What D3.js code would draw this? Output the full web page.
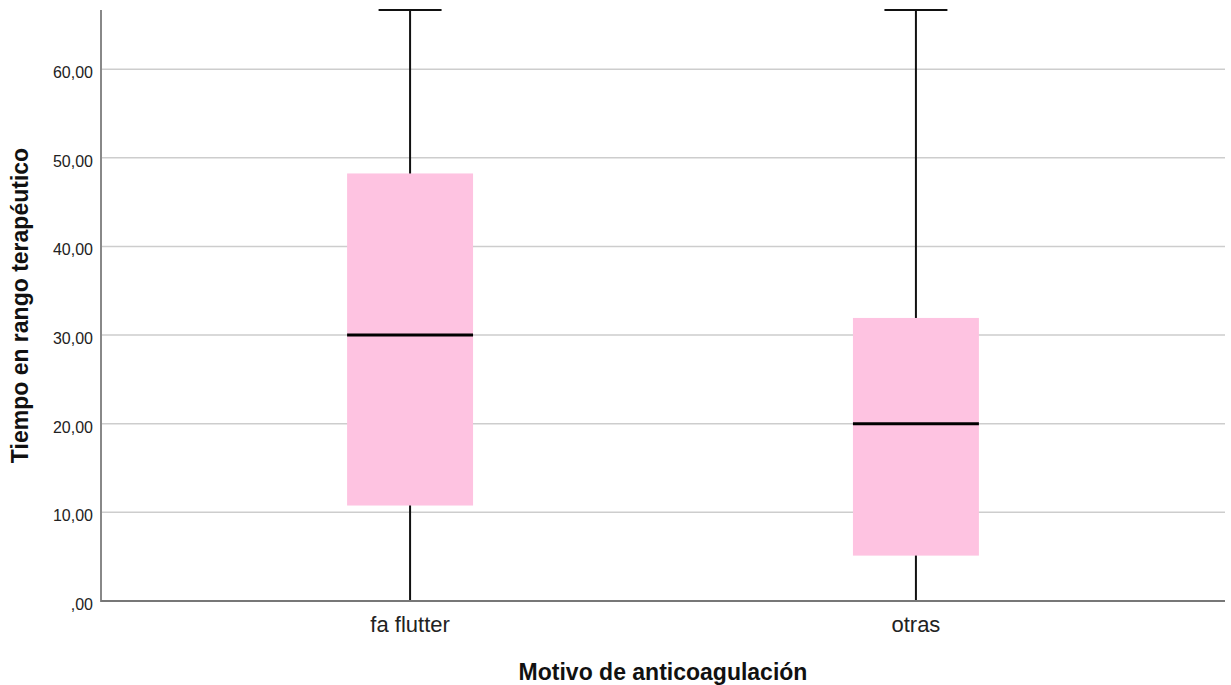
<!DOCTYPE html>
<html>
<head>
<meta charset="utf-8">
<script src="https://cdn.jsdelivr.net/npm/d3@7"></script>
<style>
  html, body { margin: 0; padding: 0; background: #fff; }
  svg { display: block; }
  text { font-family: Arial, "Liberation Sans", sans-serif; }
</style>
</head>
<body>
<svg id="chart" width="1231" height="685"></svg>
<script>
// ---- data ----
const categories = ["fa flutter", "otras"];
const whiskerLow  = [0, 0];
const q1Values    = [10.77, 5.12];
const medians     = [30.0, 20.0];
const q3Values    = [48.23, 31.93];
const whiskerHigh = [66.67, 66.67];
const yTicks      = [0, 10, 20, 30, 40, 50, 60];
const yTitle = "Tiempo en rango terapéutico";
const xTitle = "Motivo de anticoagulación";

(function () {
// ---- layout ----
const svg = d3.select("#chart");
const mLeft = 101, mRight = 1225, mTop = 10, mBottom = 601;

const x = d3.scalePoint().domain(categories).range([mLeft, mRight]).padding(0.611);
const y = d3.scaleLinear().domain([0, 66.67]).range([mBottom, mTop]);

const fmt = v => {
  const s = v.toFixed(2).replace(".", ",");
  return s.startsWith("0,") ? s.slice(1) : s;
};

// gridlines
svg.append("g")
  .selectAll("line")
  .data(yTicks.filter(d => d > 0))
  .join("line")
  .attr("x1", mLeft).attr("x2", mRight)
  .attr("y1", d => y(d)).attr("y2", d => y(d))
  .attr("stroke", "#cdcdcd").attr("stroke-width", 1.5);

// y tick labels
svg.append("g")
  .selectAll("text")
  .data(yTicks)
  .join("text")
  .attr("x", mLeft - 8)
  .attr("y", d => y(d) + 9)
  .attr("text-anchor", "end")
  .attr("font-size", 16)
  .attr("fill", "#222")
  .text(fmt);

const step = x.step();
const boxW = step * 0.249;
const capW = boxW / 2;

const data = categories.map((c, i) => ({
  c, lo: whiskerLow[i], q1: q1Values[i], med: medians[i], q3: q3Values[i], hi: whiskerHigh[i]
}));

const g = svg.append("g").selectAll("g").data(data).join("g");

// whiskers
g.append("line")
  .attr("x1", d => x(d.c)).attr("x2", d => x(d.c))
  .attr("y1", d => y(d.lo)).attr("y2", d => y(d.hi))
  .attr("stroke", "#111").attr("stroke-width", 2);
g.append("line")
  .attr("x1", d => x(d.c) - capW / 2).attr("x2", d => x(d.c) + capW / 2)
  .attr("y1", d => y(d.hi)).attr("y2", d => y(d.hi))
  .attr("stroke", "#111").attr("stroke-width", 2.2);

// boxes
g.append("rect")
  .attr("x", d => x(d.c) - boxW / 2)
  .attr("width", boxW)
  .attr("y", d => y(d.q3))
  .attr("height", d => y(d.q1) - y(d.q3))
  .attr("fill", "#fec3e1");

// medians
g.append("line")
  .attr("x1", d => x(d.c) - boxW / 2).attr("x2", d => x(d.c) + boxW / 2)
  .attr("y1", d => y(d.med)).attr("y2", d => y(d.med))
  .attr("stroke", "#000").attr("stroke-width", 3);

// axes lines
svg.append("line")
  .attr("x1", mLeft).attr("x2", mLeft).attr("y1", mTop).attr("y2", mBottom + 1)
  .attr("stroke", "#888").attr("stroke-width", 2);
svg.append("line")
  .attr("x1", mLeft).attr("x2", mRight).attr("y1", mBottom).attr("y2", mBottom)
  .attr("stroke", "#777").attr("stroke-width", 2);

// low caps (on axis)
g.append("line")
  .attr("x1", d => x(d.c) - capW / 2).attr("x2", d => x(d.c) + capW / 2)
  .attr("y1", d => y(d.lo)).attr("y2", d => y(d.lo))
  .attr("stroke", "#444").attr("stroke-width", 2);

// category labels
svg.append("g")
  .selectAll("text")
  .data(categories)
  .join("text")
  .attr("x", d => x(d))
  .attr("y", 632)
  .attr("text-anchor", "middle")
  .attr("font-size", 22)
  .attr("fill", "#222")
  .text(d => d);

// titles
svg.append("text")
  .attr("x", (mLeft + mRight) / 2)
  .attr("y", 680)
  .attr("text-anchor", "middle")
  .attr("font-size", 23)
  .attr("font-weight", "bold")
  .attr("fill", "#111")
  .text(xTitle);

svg.append("text")
  .attr("transform", `translate(28, ${(mTop + mBottom) / 2}) rotate(-90)`)
  .attr("text-anchor", "middle")
  .attr("font-size", 23)
  .attr("font-weight", "bold")
  .attr("fill", "#111")
  .text(yTitle);
})();
</script>
</body>
</html>
